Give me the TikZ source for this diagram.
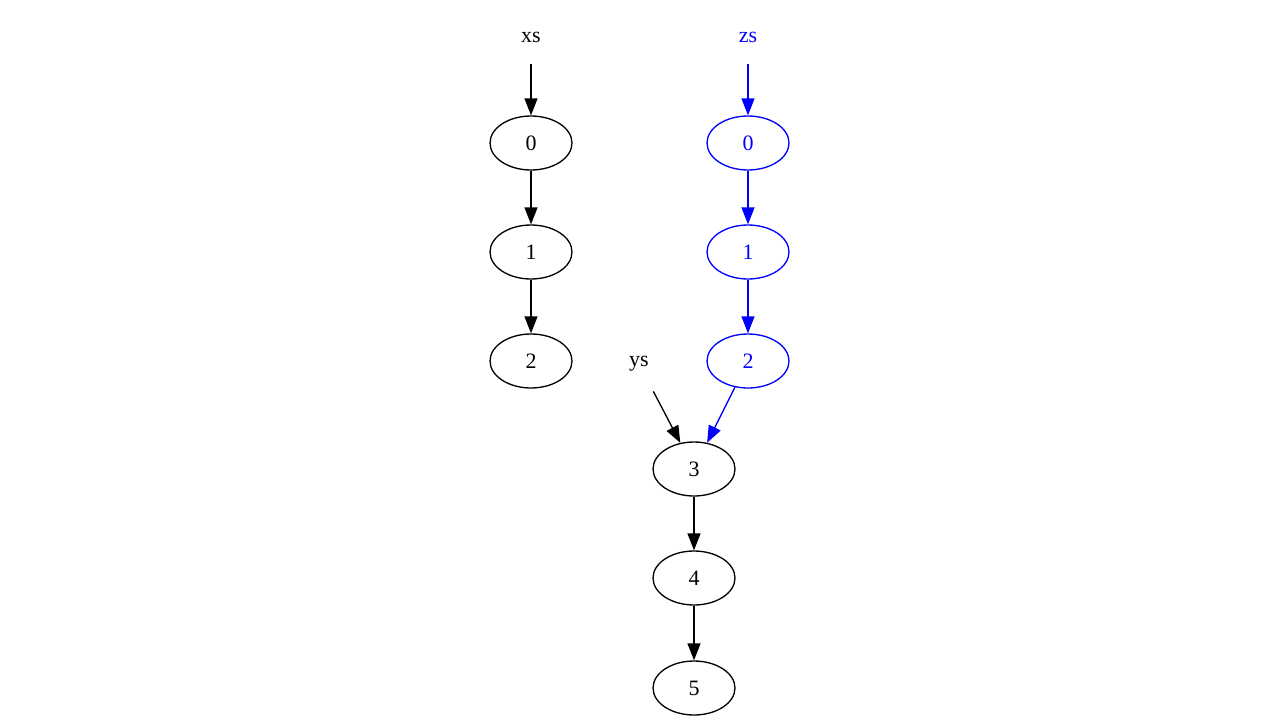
\documentclass[tikz,border=0pt]{standalone}
\usepackage{fontspec}
\setmainfont{Liberation Serif}
\usetikzlibrary{shapes.geometric,arrows.meta}

\begin{document}
\begin{tikzpicture}[x=0.02cm,y=-0.02cm,
		elt/.style={draw,ellipse,minimum width=1.64cm,minimum height=1.08cm,inner sep=0pt,line width=0.75pt,font=\fontsize{12.5}{14}\selectfont},
		tag/.style={minimum width=1.64cm,minimum height=1.08cm,inner sep=0pt,font=\fontsize{12.5}{14}\selectfont},
		ptr/.style={line width=0.75pt,-{Triangle[length=0.34cm,width=0.26cm]}}]
		\useasboundingbox (0,0) rectangle (1280,720);% Fixes the page size
		% The xs list
		\node[tag] (XsTag)  at (531,37)  {xs};
		\node[elt] (XsZero) at (531,143) {0};
		\node[elt] (XsOne)  at (531,252) {1};
		\node[elt] (XsTwo)  at (531,361) {2};
		\draw[ptr] (XsTag) -- (XsZero);
		\draw[ptr] (XsZero) -- (XsOne);
		\draw[ptr] (XsOne) -- (XsTwo);

		% The ys list, shared tail
		\node[tag] (YsTag)    at (639,364) {ys};
		\node[elt] (YsThree)  at (694,469) {3};
		\node[elt] (YsFour)   at (694,578) {4};
		\node[elt] (YsFive)   at (694,688) {5};
		\draw[ptr] (YsTag) -- (YsThree);
		\draw[ptr] (YsThree) -- (YsFour);
		\draw[ptr] (YsFour) -- (YsFive);

		% The zs list, copied cells in blue
		\begin{scope}[blue,text=blue]
		\node[tag] (ZsTag)  at (748,37)  {zs};
		\node[elt] (ZsZero) at (748,143) {0};
		\node[elt] (ZsOne)  at (748,252) {1};
		\node[elt] (ZsTwo)  at (748,361) {2};
		\draw[ptr] (ZsTag) -- (ZsZero);
		\draw[ptr] (ZsZero) -- (ZsOne);
		\draw[ptr] (ZsOne) -- (ZsTwo);
		\draw[ptr] (ZsTwo) -- (YsThree);
		\end{scope}
	  \end{tikzpicture}
\end{document}
